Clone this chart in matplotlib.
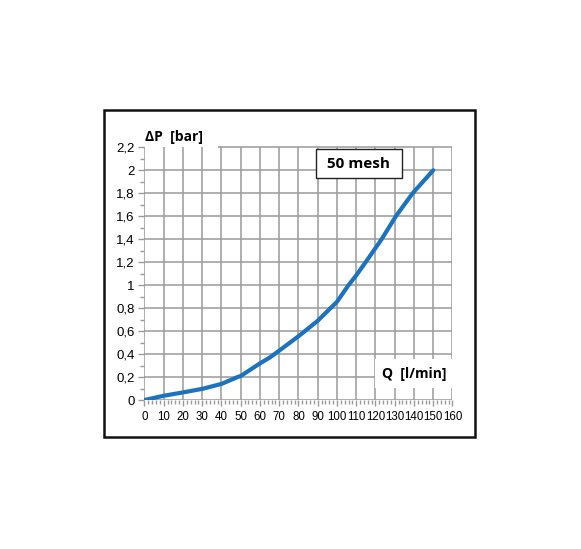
import matplotlib.pyplot as plt
from matplotlib.patches import Rectangle
from matplotlib.ticker import MultipleLocator

# ===== data =====
flow = [0, 10, 20, 30, 40, 48.4, 50, 60, 65.2, 70, 80, 90, 100, 106, 110, 114.9, 123.2, 130.6, 139.3, 150]
dp = [0, 0.037, 0.066, 0.097, 0.14, 0.2, 0.209, 0.319, 0.371, 0.43, 0.555, 0.69, 0.855, 1.0, 1.085, 1.2, 1.4, 1.6, 1.8, 2.0]

x_ticks = list(range(0, 161, 10))
y_ticks = [0, 0.2, 0.4, 0.6, 0.8, 1.0, 1.2, 1.4, 1.6, 1.8, 2.0, 2.2]
y_labels = ["0", "0,2", "0,4", "0,6", "0,8", "1", "1,2", "1,4", "1,6", "1,8", "2", "2,2"]

tick_font = ["Liberation Sans", "DejaVu Sans"]
bold_font = ["Open Sans", "DejaVu Sans"]
grid_col = "#9a9a9a"

fig = plt.figure(figsize=(5.81, 5.49), dpi=100)
ax = fig.add_axes([0.2487, 0.2714, 0.5301, 0.4603])

# outer frame
fig.patches.append(Rectangle((104 / 581, 1 - 437 / 549), 371 / 581, 327 / 549,
                             transform=fig.transFigure, fill=False,
                             edgecolor="#111111", linewidth=1.8))

ax.plot(flow, dp, color="#1b72bf", linewidth=3.0, solid_capstyle="round",
        solid_joinstyle="round", zorder=4)

ax.set_xlim(0, 160)
ax.set_ylim(0, 2.2)
ax.set_xticks(x_ticks)
ax.set_yticks(y_ticks)
ax.set_yticklabels(y_labels)
ax.xaxis.set_minor_locator(MultipleLocator(2))
ax.yaxis.set_minor_locator(MultipleLocator(0.1))
ax.tick_params(which="major", length=4, width=1, color=grid_col, pad=3)
ax.tick_params(which="minor", length=3, width=1, color=grid_col)
ax.tick_params(axis="y", labelsize=9.5)
ax.tick_params(axis="x", labelsize=8.3, pad=4)
for lab in ax.get_xticklabels() + ax.get_yticklabels():
    lab.set_family(tick_font)

for s in ax.spines.values():
    s.set_visible(False)
ax.set_axisbelow(True)
ax.grid(True, which="major", color=grid_col, linewidth=1.1)
# top grid line is hidden under the y label on the left
ax.get_ygridlines()[-1].set_visible(False)
ax.hlines(2.2, 38, 160, color=grid_col, linewidth=1.1, zorder=0.5, clip_on=False)

# axis titles
fig.text(145 / 581, 1 - 137 / 549, "ΔP  [bar]", family=bold_font, fontweight="bold",
         fontsize=10, va="center", ha="left")
ax.text(157, 0.23, "Q  [l/min]", family=bold_font, fontweight="bold", fontsize=10,
        ha="right", va="center", zorder=3,
        bbox=dict(boxstyle="square,pad=0.55", facecolor="white", edgecolor="none"))

# legend box
ax.add_patch(Rectangle((89.1, 1.93), 44.7, 0.253, facecolor="white",
                       edgecolor="#222222", linewidth=1.0, zorder=3))
ax.text(111.4, 2.056, "50 mesh", family=bold_font, fontweight="bold", fontsize=11,
        ha="center", va="center", zorder=3.5)

fig.savefig("out.png", dpi=100)
